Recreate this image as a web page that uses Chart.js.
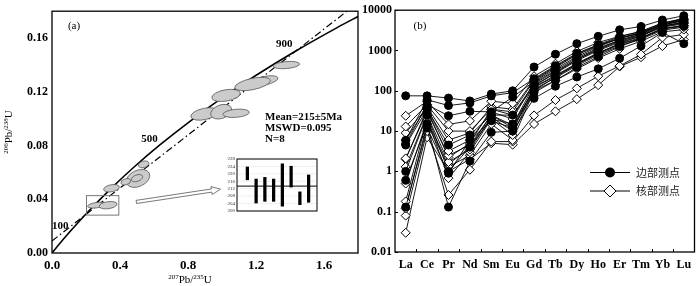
<!DOCTYPE html>
<html><head><meta charset="utf-8">
<script src="https://cdn.jsdelivr.net/npm/chart.js@4"></script>
<style>
html,body{margin:0;padding:0;background:#fff;width:700px;height:286px;overflow:hidden;position:relative}
canvas{position:absolute;display:block}
#ca{left:0;top:0}
#ci{left:222px;top:148px}
#cb{left:360px;top:0}
</style></head><body>
<canvas id="ca" width="360" height="286"></canvas>
<canvas id="ci" width="98" height="74"></canvas>
<canvas id="cb" width="340" height="286"></canvas>
<script>
// ---------- Panel (a) data ----------
const xTicksA = [0, 0.4, 0.8, 1.2, 1.6];
const yTicksA = [0, 0.04, 0.08, 0.12, 0.16];
const concordiaX = [0, 0.0505, 0.1035, 0.1592, 0.2177, 0.3437, 0.4828, 0.6362, 0.8056, 0.9924, 1.1987, 1.4264, 1.6774, 1.8126];
const concordiaY = [0, 0.0078, 0.0156, 0.0235, 0.0315, 0.0476, 0.0640, 0.0806, 0.0975, 0.1147, 0.1321, 0.1498, 0.1678, 0.1769];
const ageLabels = ['100', '500', '900'];
const discordiaX = [0, 1.735];
const discordiaY = [0.009, 0.18];
const ellipseX = [1.379, 1.249, 1.180, 1.024, 0.897, 0.995, 1.083, 0.539, 0.506, 0.434, 0.350, 0.262, 0.330];
const ellipseY = [0.1399, 0.1282, 0.1258, 0.1173, 0.1035, 0.1052, 0.1040, 0.0660, 0.0555, 0.0530, 0.0482, 0.0356, 0.0356];
const ellipseRX = [0.078, 0.082, 0.107, 0.085, 0.082, 0.064, 0.078, 0.032, 0.073, 0.029, 0.047, 0.053, 0.053];
const ellipseRY = [0.0026, 0.0032, 0.0042, 0.0042, 0.0042, 0.0050, 0.0030, 0.0024, 0.0060, 0.0022, 0.0026, 0.0020, 0.0026];
const ellipseTilt = [-5, -12, -12, -10, -12, -20, -5, -15, -25, -15, -10, -8, -8];
const innerEllipseX = [0.500];
const innerEllipseY = [0.0557];
const innerEllipseRX = [0.035];
const innerEllipseRY = [0.0024];
const innerEllipseTilt = [-20];
const statLines = ['Mean=215\u00b15Ma', 'MSWD=0.095', 'N=8'];

// ---------- Inset data ----------
const insetSpots = ['1','2','3','4','5','6','7','8'];
const insetLow  = [216.8, 204.3, 205.2, 205.2, 202.6, 212.9, 203.4, 204.7];
const insetHigh = [223.7, 217.2, 218.1, 217.2, 225.4, 224.1, 210.3, 219.4];
const insetMean = 213.4;
const insetTicks = [200, 204, 208, 212, 216, 220, 224, 228];

// ---------- Panel (b) data ----------
const elements = ['La','Ce','Pr','Nd','Sm','Eu','Gd','Tb','Dy','Ho','Er','Tm','Yb','Lu'];
const yTicksB = [0.01, 0.1, 1, 10, 100, 1000, 10000];
const rimA = [75, 75, 66, 56, 83, 100, 390, 810, 1480, 2250, 3250, 3950, 5700, 7300];
const rimB = [5.9, 60, 43, 50, 75, 90, 200, 420, 850, 1400, 2200, 3000, 4800, 6300];
const rimC = [4.8, 45, 24, 31, 30, 70, 170, 350, 700, 1250, 2000, 2800, 4500, 6000];
const rimD = [4.5, 35, 4.5, 8, 25, 25, 130, 280, 600, 1100, 1800, 2600, 4300, 5500];
const rimE = [1.0, 25, 1.0, 4, 20, 15, 100, 220, 450, 850, 1500, 2300, 4000, 5000];
const rimF = [0.6, 15, 0.13, 1.8, 9.3, 10, 65, 130, 220, 350, 640, 1300, 2800, 1480];
const rimG = [0.13, 12, 0.9, 6, 18, 12, 90, 180, 380, 700, 1250, 2000, 3500, 4000];
const coreA = [24, 55, 14.7, 18, 55, 49, 230, 470, 950, 1580, 2250, 2950, 4800, 6000];
const coreB = [13, 45, 10, 10, 35, 30, 180, 380, 780, 1300, 2000, 2700, 4400, 5400];
const coreC = [9, 38, 3.2, 6, 30, 20, 160, 320, 650, 1150, 1800, 2500, 4100, 5000];
const coreD = [2.1, 30, 2.5, 4.5, 25, 14, 140, 270, 560, 1000, 1600, 2300, 3800, 4600];
const coreE = [1.3, 25, 1.7, 3.5, 22, 10, 125, 240, 480, 880, 1450, 2100, 3500, 4200];
const coreF = [0.18, 20, 0.68, 3, 20, 8, 110, 210, 420, 780, 1300, 1900, 3200, 3800];
const coreG = [0.12, 15, 1.3, 2.5, 15, 6, 100, 180, 350, 650, 1100, 1700, 2900, 3300];
const coreH = [0.08, 10, 0.26, 1.1, 5.5, 5.5, 24.5, 59, 115, 230, 415, 800, 2100, 2500];
const coreI = [0.03, 7, 1.0, 2, 5, 4.6, 15, 31, 62, 138, 400, 680, 1290, 1870];
const coreJ = [2.0, 35, 2.2, 5, 35, 25, 150, 300, 600, 1050, 1700, 2400, 3900, 4800];
const coreK = [0.5, 18, 1.5, 4, 25, 12, 120, 230, 460, 830, 1400, 2000, 3400, 4100];
const coreL = [6, 40, 6, 9, 40, 35, 190, 400, 820, 1350, 2050, 2750, 4500, 5700];
const rimSeries = [rimA, rimB, rimC, rimD, rimE, rimF, rimG];
const coreSeries = [coreA, coreB, coreC, coreD, coreE, coreF, coreG, coreH, coreI, coreJ, coreK, coreL];
const legendLabels = ['边部测点', '核部测点'];

const SERIF = '"Liberation Serif", "Times New Roman", serif';

function framePlugin(lw, padL, padR) {
  return {
    id: 'frame',
    afterDraw(chart) {
      const a = chart.chartArea, ctx = chart.ctx;
      const l = a.left - (padL || 0), r = a.right + (padR || 0);
      ctx.save();
      ctx.strokeStyle = '#000';
      ctx.lineWidth = lw;
      ctx.strokeRect(l, a.top, r - l, a.bottom - a.top);
      ctx.restore();
    }
  };
}

function drawIsotope(ctx, parts, cx, cy, size) {
  let total = 0;
  const widths = parts.map(p => {
    ctx.font = (p[1] ? Math.round(size * 0.62) : size) + 'px ' + SERIF;
    const w = ctx.measureText(p[0]).width;
    total += w;
    return w;
  });
  let x = cx - total / 2;
  ctx.textBaseline = 'alphabetic';
  ctx.textAlign = 'left';
  parts.forEach((p, i) => {
    ctx.font = (p[1] ? Math.round(size * 0.62) : size) + 'px ' + SERIF;
    ctx.fillText(p[0], x, p[1] ? cy - size * 0.38 : cy);
    x += widths[i];
  });
}

// ---------- Chart (a) ----------
const annotA = {
  id: 'annotA',
  afterDatasetsDraw(chart) {
    const { ctx, chartArea: a } = chart;
    const xs = chart.scales.x, ys = chart.scales.y;
    ctx.save();
    ctx.beginPath();
    ctx.rect(a.left, a.top, a.right - a.left, a.bottom - a.top);
    ctx.clip();
    const drawEll = (X, Y, RX, RY, T, fill) => {
      for (let i = 0; i < X.length; i++) {
        const cx = xs.getPixelForValue(X[i]), cy = ys.getPixelForValue(Y[i]);
        const rx = Math.abs(xs.getPixelForValue(X[i] + RX[i]) - cx);
        const ry = Math.abs(ys.getPixelForValue(Y[i] + RY[i]) - cy);
        ctx.beginPath();
        ctx.ellipse(cx, cy, rx, ry, T[i] * Math.PI / 180, 0, Math.PI * 2);
        if (fill) { ctx.fillStyle = '#cbcbcb'; ctx.fill(); }
        ctx.lineWidth = 0.8;
        ctx.strokeStyle = '#555';
        ctx.stroke();
      }
    };
    drawEll(ellipseX, ellipseY, ellipseRX, ellipseRY, ellipseTilt, true);
    drawEll(innerEllipseX, innerEllipseY, innerEllipseRX, innerEllipseRY, innerEllipseTilt, false);

    // zoom box
    const bx1 = xs.getPixelForValue(0.203), bx2 = xs.getPixelForValue(0.393);
    const by1 = ys.getPixelForValue(0.0427), by2 = ys.getPixelForValue(0.0282);
    ctx.strokeStyle = '#777'; ctx.lineWidth = 1;
    ctx.strokeRect(bx1, by1, bx2 - bx1, by2 - by1);

    // hollow arrow
    const sx = xs.getPixelForValue(0.496), sy = ys.getPixelForValue(0.0380);
    const ex = xs.getPixelForValue(0.991), ey = ys.getPixelForValue(0.0475);
    const len = Math.hypot(ex - sx, ey - sy);
    const ux = (ex - sx) / len, uy = (ey - sy) / len, nx = -uy, ny = ux;
    const w = 1.6, h = 4, L = 9;
    const bxp = ex - ux * L, byp = ey - uy * L;
    ctx.beginPath();
    ctx.moveTo(sx + nx * w, sy + ny * w);
    ctx.lineTo(bxp + nx * w, byp + ny * w);
    ctx.lineTo(bxp + nx * h, byp + ny * h);
    ctx.lineTo(ex, ey);
    ctx.lineTo(bxp - nx * h, byp - ny * h);
    ctx.lineTo(bxp - nx * w, byp - ny * w);
    ctx.lineTo(sx - nx * w, sy - ny * w);
    ctx.closePath();
    ctx.fillStyle = '#fff'; ctx.fill();
    ctx.strokeStyle = '#555'; ctx.lineWidth = 0.8; ctx.stroke();
    ctx.restore();

    // texts
    ctx.save();
    ctx.fillStyle = '#000';
    ctx.textAlign = 'center'; ctx.textBaseline = 'middle';
    ctx.font = '11px ' + SERIF;
    ctx.fillText('(a)', 74, 26);
    ctx.font = 'bold 11px ' + SERIF;
    const agePos = [[0.048, 0.0200], [0.574, 0.0844], [1.366, 0.1555]];
    ageLabels.forEach((t, i) => ctx.fillText(t, xs.getPixelForValue(agePos[i][0]), ys.getPixelForValue(agePos[i][1])));
    ctx.textAlign = 'left';
    statLines.forEach((t, i) => ctx.fillText(t, 265, 117 + i * 11));
    ctx.restore();
  },
  afterDraw(chart) {
    const ctx = chart.ctx;
    ctx.save();
    ctx.fillStyle = '#000';
    drawIsotope(ctx, [['207', 1], ['Pb/', 0], ['235', 1], ['U', 0]], 190, 283, 11);
    ctx.translate(12, 132);
    ctx.rotate(-Math.PI / 2);
    drawIsotope(ctx, [['206', 1], ['Pb/', 0], ['238', 1], ['U', 0]], 0, 0, 11);
    ctx.restore();
  }
};

new Chart(document.getElementById('ca'), {
  type: 'scatter',
  data: {
    datasets: [
      { data: concordiaX.map((x, i) => ({ x, y: concordiaY[i] })), showLine: true, borderColor: '#000', borderWidth: 1.6, pointRadius: 0, cubicInterpolationMode: 'monotone' },
      { data: discordiaX.map((x, i) => ({ x, y: discordiaY[i] })), showLine: true, borderColor: '#000', borderWidth: 1.2, borderDash: [7, 3, 1.5, 3], pointRadius: 0 }
    ]
  },
  options: {
    responsive: false, animation: false, events: [],
    layout: { padding: { top: 5, right: 2, left: 0, bottom: 0 } },
    plugins: { legend: { display: false }, tooltip: { enabled: false } },
    scales: {
      x: {
        type: 'linear', min: 0, max: 1.8,
        afterBuildTicks: s => { s.ticks = xTicksA.map(v => ({ value: v })); },
        afterFit: s => { s.height = 33; },
        ticks: { callback: v => Number(v).toFixed(1), font: { family: SERIF, weight: 'bold', size: 13 }, color: '#000', padding: 5, maxRotation: 0 },
        grid: { display: false, drawTicks: false },
        border: { display: false }
      },
      y: {
        type: 'linear', min: 0, max: 0.18,
        afterBuildTicks: s => { s.ticks = yTicksA.map(v => ({ value: v })); },
        afterFit: s => { s.width = 52; },
        ticks: { callback: v => Number(v).toFixed(2), font: { family: SERIF, weight: 'bold', size: 12 }, color: '#000', padding: 4 },
        grid: { display: false, drawTicks: false },
        border: { display: false }
      }
    }
  },
  plugins: [annotA, framePlugin(1.3)]
});

// ---------- Inset ----------
const insetExtras = {
  id: 'insetExtras',
  beforeDatasetsDraw(chart) {
    const { ctx, chartArea: a } = chart;
    const ys = chart.scales.y;
    ctx.save();
    ctx.strokeStyle = '#e4e4e4'; ctx.lineWidth = 0.6;
    ctx.beginPath();
    insetTicks.forEach(v => { const y = ys.getPixelForValue(v); ctx.moveTo(a.left - 6, y); ctx.lineTo(a.right + 4, y); });
    ctx.stroke();
    ctx.restore();
  },
  afterDatasetsDraw(chart) {
    const { ctx, chartArea: a } = chart;
    const y = chart.scales.y.getPixelForValue(insetMean);
    ctx.save();
    ctx.strokeStyle = '#000'; ctx.lineWidth = 1;
    ctx.beginPath(); ctx.moveTo(a.left - 6, y); ctx.lineTo(a.right + 4, y); ctx.stroke();
    ctx.restore();
  }
};
new Chart(document.getElementById('ci'), {
  type: 'bar',
  data: {
    labels: insetSpots,
    datasets: [
      { data: insetLow.map((lo, i) => [lo, insetHigh[i]]), backgroundColor: '#000', barThickness: 2.6 }
    ]
  },
  options: {
    responsive: false, animation: false, events: [],
    layout: { padding: { top: 4, right: 7, bottom: 4, left: 0 } },
    plugins: { legend: { display: false }, tooltip: { enabled: false } },
    scales: {
      x: { type: 'category', offset: true, display: false },
      y: {
        min: 200, max: 228,
        afterBuildTicks: s => { s.ticks = insetTicks.map(v => ({ value: v })); },
        afterFit: s => { s.width = 21; },
        ticks: { font: { family: SERIF, size: 5 }, color: '#333', padding: 8 },
        grid: { display: false, drawTicks: false },
        border: { display: false }
      }
    }
  },
  plugins: [insetExtras, framePlugin(1, 6, 4)]
});

// ---------- Chart (b) ----------
const extrasB = {
  id: 'extrasB',
  afterDraw(chart) {
    const { ctx, chartArea: a } = chart;
    const xs = chart.scales.x, ys = chart.scales.y;
    ctx.save();
    ctx.strokeStyle = '#000'; ctx.lineWidth = 1;
    ctx.beginPath();
    for (let i = 0; i < elements.length - 1; i++) {
      const x = Math.round((xs.getPixelForValue(i) + xs.getPixelForValue(i + 1)) / 2) + 0.5;
      ctx.moveTo(x, a.bottom); ctx.lineTo(x, a.bottom - 3);
    }
    yTicksB.forEach(v => {
      const y = Math.round(ys.getPixelForValue(v)) + 0.5;
      ctx.moveTo(a.left, y); ctx.lineTo(a.left + 3, y);
    });
    ctx.stroke();

    ctx.fillStyle = '#000';
    ctx.font = '11px ' + SERIF;
    ctx.textAlign = 'center'; ctx.textBaseline = 'middle';
    ctx.fillText('(b)', 60, 26);

    // legend
    const ly = [172.5, 191];
    ctx.lineWidth = 1;
    ly.forEach((y, k) => {
      ctx.beginPath(); ctx.moveTo(230, y); ctx.lineTo(270, y); ctx.stroke();
      ctx.beginPath();
      if (k === 0) {
        ctx.arc(250, y, 5, 0, Math.PI * 2);
        ctx.fillStyle = '#000'; ctx.fill();
      } else {
        ctx.moveTo(250, y - 6); ctx.lineTo(256, y); ctx.lineTo(250, y + 6); ctx.lineTo(244, y); ctx.closePath();
        ctx.fillStyle = '#fff'; ctx.fill(); ctx.stroke();
      }
      ctx.fillStyle = '#222';
      ctx.font = '11px "Noto Sans CJK SC"';
      ctx.textAlign = 'left';
      ctx.fillText(legendLabels[k], 276, y);
    });
    ctx.restore();
  }
};

const dsB = [];
rimSeries.forEach(s => dsB.push({ data: s, borderColor: '#000', borderWidth: 0.9, pointStyle: 'circle', pointRadius: 4, pointBackgroundColor: '#000', pointBorderColor: '#000', pointBorderWidth: 1, tension: 0 }));
coreSeries.forEach(s => dsB.push({ data: s, borderColor: '#000', borderWidth: 0.9, pointStyle: 'rectRot', pointRadius: 4.5, pointBackgroundColor: '#fff', pointBorderColor: '#000', pointBorderWidth: 1, tension: 0 }));

new Chart(document.getElementById('cb'), {
  type: 'line',
  data: { labels: elements, datasets: dsB },
  options: {
    responsive: false, animation: false, events: [],
    layout: { padding: { top: 5, right: 2, left: 0, bottom: 0 } },
    plugins: { legend: { display: false }, tooltip: { enabled: false } },
    scales: {
      x: {
        type: 'category', offset: true,
        afterFit: s => { s.height = 34; },
        ticks: { font: { family: SERIF, weight: 'bold', size: 12 }, color: '#000', padding: 6, maxRotation: 0, autoSkip: false },
        grid: { display: false, drawTicks: false, offset: true },
        border: { display: false }
      },
      y: {
        type: 'logarithmic', min: 0.01, max: 10000,
        afterBuildTicks: s => { s.ticks = yTicksB.map(v => ({ value: v })); },
        afterFit: s => { s.width = 35; },
        ticks: { callback: v => String(v), font: { family: SERIF, weight: 'bold', size: 12 }, color: '#000', padding: 3 },
        grid: { display: false, drawTicks: false },
        border: { display: false }
      }
    }
  },
  plugins: [extrasB, framePlugin(1.3)]
});
</script>
</body></html>
